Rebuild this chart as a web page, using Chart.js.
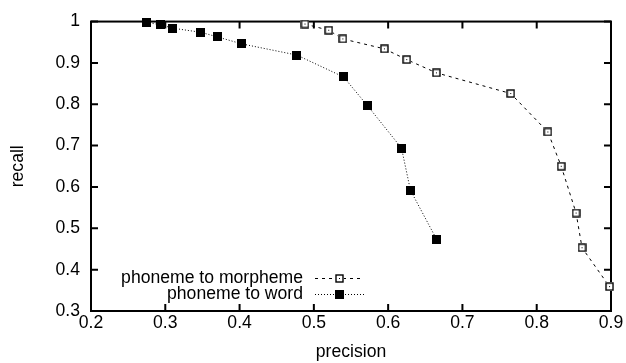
<!DOCTYPE html>
<html>
<head>
<meta charset="utf-8">
<script src="https://cdn.jsdelivr.net/npm/chart.js@4"></script>
<style>
  html, body { margin: 0; padding: 0; background: #fff; }
</style>
</head>
<body>
<canvas id="chart" width="626" height="363"></canvas>
<script>
// data
const seriesNames = ["phoneme to morpheme", "phoneme to word"];
const morphPrecision = [0.488, 0.520, 0.539, 0.595, 0.625, 0.665, 0.765, 0.815, 0.833, 0.853, 0.861, 0.898];
const morphRecall = [0.994, 0.979, 0.958, 0.934, 0.908, 0.876, 0.826, 0.733, 0.650, 0.537, 0.453, 0.359];
const wordPrecision = [0.275, 0.294, 0.310, 0.348, 0.370, 0.403, 0.477, 0.540, 0.572, 0.618, 0.630, 0.665];
const wordRecall = [0.998, 0.992, 0.984, 0.974, 0.963, 0.946, 0.919, 0.866, 0.797, 0.694, 0.592, 0.474];
const xTickValues = [0.2, 0.3, 0.4, 0.5, 0.6, 0.7, 0.8, 0.9];
const yTickValues = [0.3, 0.4, 0.5, 0.6, 0.7, 0.8, 0.9, 1];

const FONT = "'Liberation Sans', Arial, Helvetica, sans-serif";
const FONT_SIZE = 17.6;

// point markers like gnuplot's
function makeOpenBox() {
  const c = document.createElement("canvas");
  c.width = 9; c.height = 9;
  const g = c.getContext("2d");
  g.fillStyle = "#fff";
  g.fillRect(0, 0, 9, 9);
  g.strokeStyle = "#000";
  g.lineWidth = 1.4;
  g.strokeRect(1, 1, 7, 7);
  g.fillStyle = "#000";
  g.fillRect(4, 4, 1, 1);
  return c;
}
function makeFilledBox() {
  const c = document.createElement("canvas");
  c.width = 9; c.height = 9;
  const g = c.getContext("2d");
  g.fillStyle = "#000";
  g.fillRect(0, 0, 9, 9);
  return c;
}
const openBox = makeOpenBox();
const filledBox = makeFilledBox();

function toPoints(xs, ys) {
  const pts = [];
  for (let i = 0; i < xs.length; i++) {
    pts.push({ x: xs[i], y: ys[i] });
  }
  return pts;
}

// border box with inward ticks on all sides
const framePlugin = {
  id: "frame",
  beforeDatasetsDraw(chart) {
    const { ctx, chartArea, scales } = chart;
    const a = chartArea;
    ctx.save();
    ctx.strokeStyle = "#000";
    ctx.lineWidth = 2;
    ctx.strokeRect(a.left, a.top, a.right - a.left, a.bottom - a.top);
    ctx.beginPath();
    const len = 7;
    for (const v of xTickValues) {
      const px = scales.x.getPixelForValue(v);
      ctx.moveTo(px, a.bottom); ctx.lineTo(px, a.bottom - len);
      ctx.moveTo(px, a.top); ctx.lineTo(px, a.top + len);
    }
    for (const v of yTickValues) {
      const py = scales.y.getPixelForValue(v);
      ctx.moveTo(a.left, py); ctx.lineTo(a.left + len, py);
      ctx.moveTo(a.right, py); ctx.lineTo(a.right - len, py);
    }
    ctx.stroke();
    ctx.restore();
  }
};

// gnuplot style key: text right aligned, then sample line with marker
const keyPlugin = {
  id: "key",
  afterDraw(chart) {
    const { ctx, chartArea } = chart;
    const textRight = chartArea.left + 212;
    const lineStart = chartArea.left + 224;
    const lineEnd = chartArea.left + 273;
    const rows = [chartArea.bottom - 33, chartArea.bottom - 17];
    ctx.save();
    ctx.font = FONT_SIZE + "px " + FONT;
    ctx.textAlign = "right";
    ctx.textBaseline = "middle";
    ctx.fillStyle = "#000";
    chart.data.datasets.forEach((ds, i) => {
      const y = rows[i];
      ctx.fillText(ds.label, textRight, y);
      ctx.beginPath();
      ctx.setLineDash(ds.borderDash);
      ctx.lineWidth = 1;
      ctx.strokeStyle = "#000";
      ctx.moveTo(lineStart, y + 0.5);
      ctx.lineTo(lineEnd, y + 0.5);
      ctx.stroke();
      const img = ds.pointStyle;
      ctx.drawImage(img, Math.round((lineStart + lineEnd) / 2 - img.width / 2), Math.round(y - img.height / 2));
    });
    ctx.restore();
  }
};

const ctx = document.getElementById("chart");
new Chart(ctx, {
  type: "scatter",
  data: {
    datasets: [
      {
        label: seriesNames[0],
        data: toPoints(morphPrecision, morphRecall),
        showLine: true,
        borderColor: "#000",
        borderWidth: 1,
        borderDash: [3, 4],
        pointStyle: openBox,
        clip: false,
      },
      {
        label: seriesNames[1],
        data: toPoints(wordPrecision, wordRecall),
        showLine: true,
        borderColor: "#000",
        borderWidth: 1,
        borderDash: [1, 2],
        pointStyle: filledBox,
        clip: false,
      },
    ],
  },
  options: {
    responsive: false,
    devicePixelRatio: 1,
    animation: false,
    layout: { padding: { top: 19, right: 15, bottom: 0, left: 0 } },
    plugins: {
      legend: { display: false },
      tooltip: { enabled: false },
    },
    scales: {
      x: {
        type: "linear",
        min: 0.2,
        max: 0.9,
        grid: { display: false, drawTicks: false },
        border: { display: false },
        afterBuildTicks: (scale) => { scale.ticks = xTickValues.map((v) => ({ value: v })); },
        afterFit: (scale) => { scale.height = 52; },
        ticks: {
          padding: 2,
          color: "#000",
          font: { family: FONT, size: FONT_SIZE },
          callback: (v) => String(v),
        },
        title: {
          display: true,
          text: "precision",
          color: "#000",
          font: { family: FONT, size: FONT_SIZE },
          padding: { top: 0, bottom: 0 },
        },
      },
      y: {
        type: "linear",
        min: 0.3,
        max: 1,
        grid: { display: false, drawTicks: false },
        border: { display: false },
        afterBuildTicks: (scale) => { scale.ticks = yTickValues.map((v) => ({ value: v })); },
        afterFit: (scale) => { scale.width = 91; },
        ticks: {
          padding: 11,
          color: "#000",
          font: { family: FONT, size: FONT_SIZE },
          callback: (v) => String(v),
        },
        title: {
          display: true,
          text: "recall",
          color: "#000",
          font: { family: FONT, size: FONT_SIZE },
          padding: { top: 8, bottom: 0 },
        },
      },
    },
  },
  plugins: [framePlugin, keyPlugin],
});
</script>
</body>
</html>
